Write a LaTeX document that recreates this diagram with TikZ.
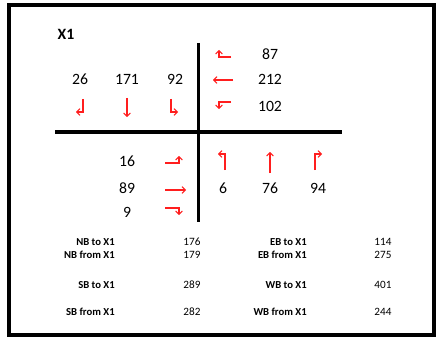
\documentclass[tikz,border=0pt]{standalone}
\usepackage{fontspec}
\setmainfont{Carlito}
\usetikzlibrary{arrows.meta}
\definecolor{arrred}{RGB}{255,30,30}
\begin{document}
\begin{tikzpicture}[x=0.75pt,y=-0.75pt,
  num/.style={inner sep=0pt,font=\fontsize{11.8pt}{13pt}\selectfont},
  lbl/.style={inner sep=0pt,anchor=east,font=\fontsize{8pt}{9pt}\selectfont\bfseries},
  val/.style={inner sep=0pt,font=\fontsize{8.4pt}{9pt}\selectfont},
  arr/.style={draw=arrred,line width=0.8pt,line join=miter,-{Straight Barb[length=2.4pt,width=5pt]}},
  bar/.style={line width=2.3pt}]
\useasboundingbox (0,0) rectangle (438,342);
\draw[line width=3pt] (8.7,5) rectangle (434,334.5);
\node[inner sep=0pt,font=\fontsize{11.8pt}{13pt}\selectfont\bfseries] (title) at (66,34) {X1};
% cross
\coordinate (vt) at (198.5,43);
\coordinate (vb) at (198.5,222);
\coordinate (hl) at (55,132);
\coordinate (hr) at (342,132);
\draw[bar] (vt) -- (vb);
\draw[bar] (hl) -- (hr);
% top-left numbers
\node[num] (n26) at (80,79) {26};
\node[num] (n171) at (127,79) {171};
\node[num] (n92) at (175,79) {92};
\draw[arr] (83,99) -- (83,112) -- (76,112);
\draw[arr] (127,98) -- (127,117);
\draw[arr] (171,99) -- (171,112) -- (178,112);
% top-right
\node[num] (n87) at (270,54) {87};
\node[num] (n212) at (270,79) {212};
\node[num] (n102) at (270,106) {102};
\draw[arr] (231,57) -- (219,57) -- (219,50);
\draw[arr] (233,80) -- (213,80);
\draw[arr] (231,102) -- (219,102) -- (219,109);
% bottom-left
\node[num] (n16) at (127,161) {16};
\node[num] (n89) at (127,188) {89};
\node[num] (n9) at (127,212) {9};
\draw[arr] (165,163) -- (179,163) -- (179,156);
\draw[arr] (165,190) -- (186,190);
\draw[arr] (165,208) -- (179,208) -- (179,215);
% bottom-right
\node[num] (n6) at (223,188) {6};
\node[num] (n76) at (270,188) {76};
\node[num] (n94) at (318,188) {94};
\draw[arr] (225,170) -- (225,154) -- (218,154);
\draw[arr] (270,173) -- (270,152);
\draw[arr] (315,170) -- (315,154) -- (322,154);
% table
\node[lbl] (l1) at (115,242) {NB to X1};
\node[lbl] (l2) at (115,255) {NB from X1};
\node[lbl] (l3) at (115,285) {SB to X1};
\node[lbl] (l4) at (115,312) {SB from X1};
\node[val] (v1) at (192,242) {176};
\node[val] (v2) at (192,255) {179};
\node[val] (v3) at (192,285) {289};
\node[val] (v4) at (192,312) {282};
\node[lbl] (l5) at (307,242) {EB to X1};
\node[lbl] (l6) at (307,255) {EB from X1};
\node[lbl] (l7) at (307,285) {WB to X1};
\node[lbl] (l8) at (307,312) {WB from X1};
\node[val] (v5) at (383,242) {114};
\node[val] (v6) at (383,255) {275};
\node[val] (v7) at (383,285) {401};
\node[val] (v8) at (383,312) {244};
\end{tikzpicture}
\end{document}
